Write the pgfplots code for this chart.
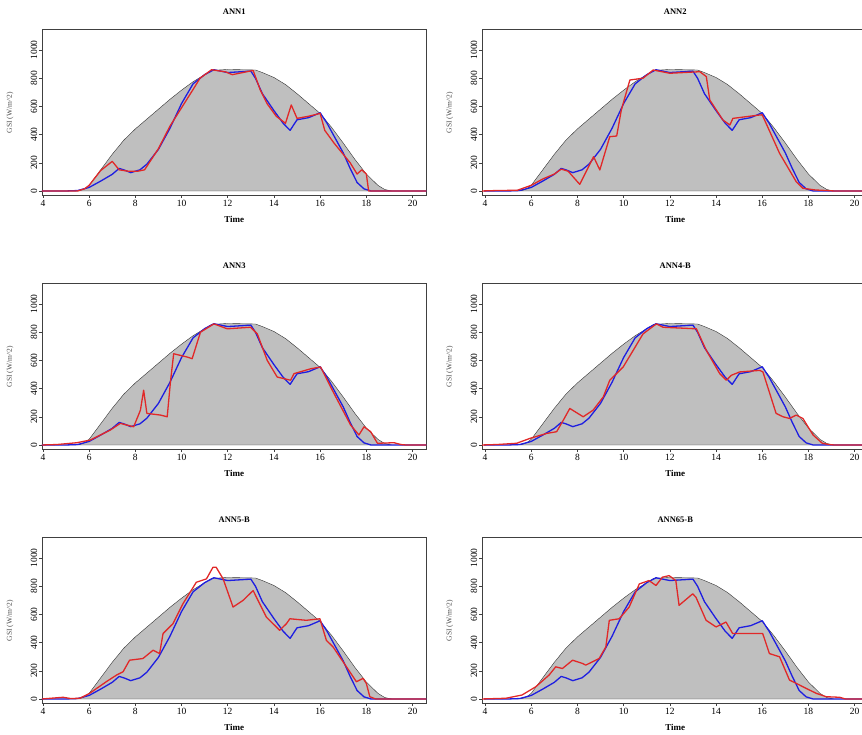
\documentclass[border=0pt]{standalone}
\usepackage{pgfplots}
\usepackage{pgfplotstable}
\pgfplotsset{compat=1.18}
\usepackage{fontspec}
\setmainfont{Liberation Serif}
\definecolor{obsblue}{RGB}{30,30,225}
\definecolor{annred}{RGB}{225,40,40}

\pgfplotstableread{
t g
3.96 0
5.5 0
5.8 15
6.0 40
6.5 150
7.0 260
7.5 360
8.0 440
8.5 510
9.0 580
9.5 650
10.0 715
10.5 775
11.0 825
11.3 855
12.0 862
13.2 858
13.5 840
14.0 805
14.5 755
15.0 690
15.5 620
16.0 550
16.5 450
17.0 340
17.5 225
18.0 120
18.5 40
18.8 10
19.1 0
20.6 0
}\clearsky

\pgfplotstableread{
t g
3.96 0
5.0 0
5.5 3
6.0 25
6.5 70
7.0 118
7.3 160
7.5 150
7.8 130
8.2 150
8.5 190
9.0 295
9.5 445
10.0 620
10.5 760
11.0 825
11.4 860
12.0 840
12.5 845
13.0 850
13.2 800
13.5 690
14.0 570
14.4 480
14.7 430
15.0 505
15.5 520
16.0 555
16.3 480
16.5 420
17.0 270
17.3 160
17.6 60
17.9 15
18.2 0
20.6 0
}\measured

\pgfplotstableread{
t g
3.96 0
5.5 0
5.8 15
6.0 40
6.5 145
7.0 210
7.3 150
7.7 140
8.1 140
8.4 150
9.0 300
9.5 460
10.0 590
10.5 720
10.8 800
11.3 860
11.9 845
12.2 825
13.1 855
13.4 720
13.7 620
14.1 530
14.5 480
14.75 610
15.0 515
15.5 530
16.0 550
16.2 430
16.6 340
17.3 200
17.6 120
17.8 150
18.0 120
18.1 0
20.6 0
}\annone

\pgfplotstableread{
t g
3.87 0
4.5 3
5.4 5
6.0 40
6.5 85
7.0 120
7.3 155
7.6 140
8.1 47
8.7 243
8.97 149
9.4 385
9.7 390
9.9 574
10.27 787
10.84 800
11.28 858
12.0 835
13.3 846
13.58 811
13.73 645
14.3 503
14.6 468
14.73 515
15.89 539
16.0 540
16.75 267
17.47 66
17.76 19
18.3 7
18.9 2
19.1 0
20.6 0
}\anntwo

\pgfplotstableread{
t g
3.96 0
4.6 3
5.47 16
6.05 35
6.92 106
7.35 153
7.93 129
8.22 247
8.36 388
8.5 224
9.09 212
9.38 200
9.52 447
9.66 647
10.24 624
10.46 612
10.82 800
11.4 859
11.98 824
12.99 835
13.28 788
13.71 600
14.14 482
14.72 459
14.87 506
15.6 541
16.02 553
16.6 365
17.32 141
17.68 71
17.9 129
18.19 94
18.48 12
19.2 16
19.5 3
19.7 0
20.6 0
}\annthree

\pgfplotstableread{
t g
3.87 0
4.5 3
5.37 12
5.95 47
6.67 82
7.1 94
7.39 176
7.67 259
8.25 200
8.68 247
9.12 341
9.4 459
9.98 553
10.41 670
10.84 788
11.42 859
11.71 835
13.15 824
13.58 671
14.16 506
14.45 459
14.66 494
15.02 518
15.89 529
16.03 518
16.6 224
16.9 200
17.18 188
17.47 212
17.76 188
18.2 71
18.6 12
18.9 3
19.1 0
20.6 0
}\annfour

\pgfplotstableread{
t g
3.96 0
4.87 12
5.2 3
5.6 5
6.02 40
6.74 122
7.18 169
7.47 193
7.75 275
8.33 287
8.77 346
9.05 322
9.2 464
9.63 534
10.06 675
10.64 828
11.08 852
11.36 934
11.5 934
11.8 852
12.23 652
12.66 699
13.1 769
13.67 581
14.25 487
14.54 534
14.69 569
15.4 558
15.99 569
16.27 416
16.56 369
17.14 228
17.57 122
17.86 146
18.0 110
18.15 16
18.4 0
20.6 0
}\annfive

\pgfplotstableread{
t g
3.87 0
4.9 5
5.6 28
6.2 87
6.77 169
7.06 228
7.35 216
7.79 275
8.22 252
8.36 240
8.94 287
9.23 369
9.38 558
9.81 569
10.24 652
10.68 816
11.1 840
11.4 805
11.68 864
11.97 875
12.26 840
12.4 664
12.99 746
13.13 722
13.57 558
14.0 511
14.29 534
14.43 546
14.72 464
15.16 464
16.02 464
16.31 322
16.75 299
17.18 134
17.47 111
17.9 75
18.34 40
18.77 16
19.35 12
19.6 0
20.6 0
}\annsix

\pgfplotsset{
  panel/.style={
    scale only axis,
    anchor=south west,
    height=165.5pt,
    ymin=-30, ymax=1144,
    xmax=20.6,
    xtick={4,6,...,20},
    ytick={0,200,...,1000},
    tick align=outside,
    tick pos=left,
    major tick length=3pt,
    axis line style={black!75, line width=0.6pt},
    every tick/.style={black!75, line width=0.5pt},
    /pgf/number format/assume math mode=true,
    /pgf/number format/1000 sep={},
    ticklabel style={font=\fontsize{9.5}{10}\selectfont},
    yticklabel style={rotate=90, anchor=south, inner sep=1.5pt},
    xticklabel style={inner sep=1.5pt},
    xlabel={\textbf{Time}},
    xlabel style={font=\fontsize{9}{10}\selectfont, yshift=-5pt},
    ylabel={GSI (W/m\textasciicircum 2)},
    ylabel style={at={(axis description cs:-0.083,0.5)}, anchor=center, font=\fontsize{7.5}{8}\selectfont, text=black!70},
    title style={at={(axis description cs:0.5,1)}, anchor=center, yshift=12pt, font=\bfseries\fontsize{8.5}{9}\selectfont},
    clip=true,
  },
  leftpanel/.style={panel, xmin=3.96, width=384.4pt},
  rightpanel/.style={panel, xmin=3.87, width=386.5pt},
  skyfill/.style={fill=gray!50, draw=black!80, line width=0.4pt},
  obsline/.style={obsblue, line width=1.3pt, line join=round},
  annline/.style={annred, line width=1.3pt, line join=round},
}

\begin{document}
\begin{tikzpicture}
\path[use as bounding box] (0,0) rectangle (862pt,734pt);

% Row 1
\begin{axis}[leftpanel, at={(42pt,538.8pt)}, title={ANN1}]
\addplot[skyfill] table {\clearsky} \closedcycle;
\addplot[obsline] table {\measured};
\addplot[annline] table {\annone};
\end{axis}
\begin{axis}[rightpanel, at={(482pt,538.8pt)}, title={ANN2}]
\addplot[skyfill] table {\clearsky} \closedcycle;
\addplot[obsline] table {\measured};
\addplot[annline] table {\anntwo};
\end{axis}

% Row 2
\begin{axis}[leftpanel, at={(42pt,284.8pt)}, title={ANN3}]
\addplot[skyfill] table {\clearsky} \closedcycle;
\addplot[obsline] table {\measured};
\addplot[annline] table {\annthree};
\end{axis}
\begin{axis}[rightpanel, at={(482pt,284.8pt)}, title={ANN4-B}]
\addplot[skyfill] table {\clearsky} \closedcycle;
\addplot[obsline] table {\measured};
\addplot[annline] table {\annfour};
\end{axis}

% Row 3
\begin{axis}[leftpanel, at={(42pt,30.8pt)}, title={ANN5-B}]
\addplot[skyfill] table {\clearsky} \closedcycle;
\addplot[obsline] table {\measured};
\addplot[annline] table {\annfive};
\end{axis}
\begin{axis}[rightpanel, at={(482pt,30.8pt)}, title={ANN65-B}]
\addplot[skyfill] table {\clearsky} \closedcycle;
\addplot[obsline] table {\measured};
\addplot[annline] table {\annsix};
\end{axis}
\end{tikzpicture}
\end{document}
